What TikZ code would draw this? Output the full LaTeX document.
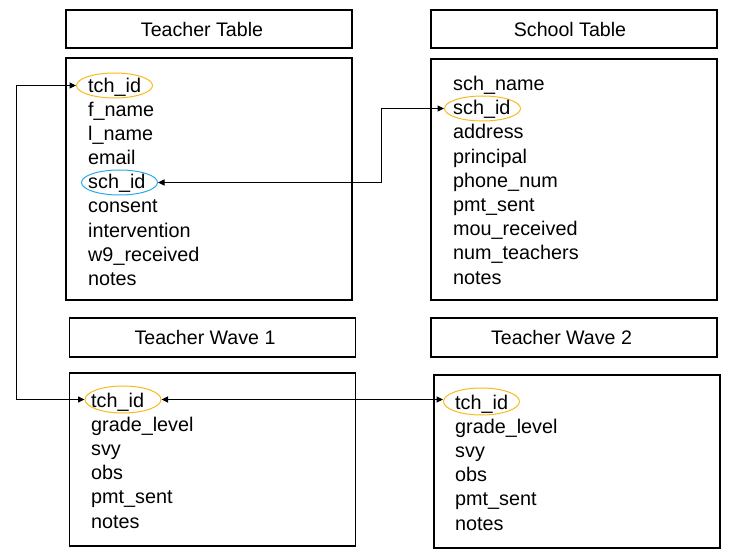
\documentclass[tikz,border=0pt]{standalone}
\usepackage{fontspec}
\setmainfont{Liberation Sans}
\usetikzlibrary{arrows.meta,shapes.geometric}
\definecolor{ovlorange}{HTML}{F7BA1A}
\definecolor{ovlblue}{HTML}{2AAAE6}
\tikzset{
  box/.style={draw=black,line width=1.1pt,inner sep=0pt,font=\fontsize{19.6}{23}\selectfont},
  field/.style={anchor=base west,inner sep=0pt,font=\fontsize{19.8}{23}\selectfont},
  ovl/.style={draw,ellipse,line width=1pt,inner sep=0pt,minimum width=76pt,minimum height=25pt},
  link/.style={draw=black,line width=1pt,{Triangle[length=6.5pt,width=6pt]}-{Triangle[length=6.5pt,width=6pt]}}
}
\begin{document}
\begin{tikzpicture}[x=1pt,y=-1pt]
\useasboundingbox (0,0) rectangle (732,559);
% title boxes
\node[box,minimum width=286pt,minimum height=38pt] (tt) at (209,29) {Teacher Table\hspace*{14pt}};
\node[box,minimum width=286pt,minimum height=38pt] (st) at (574,29) {School Table\hspace*{8pt}};
\node[box,minimum width=286pt,minimum height=39pt] (w1t) at (212.5,337.5) {Teacher Wave 1\hspace*{15pt}};
\node[box,minimum width=286pt,minimum height=39pt] (w2t) at (574,337.5) {Teacher Wave 2\hspace*{25pt}};
% body boxes
\node[box,minimum width=286pt,minimum height=242pt] (tb) at (209,179) {};
\node[box,minimum width=286pt,minimum height=241pt] (sb) at (574,179.5) {};
\node[box,minimum width=286pt,minimum height=173pt] (w1b) at (212.5,459.5) {};
\node[box,minimum width=286pt,minimum height=173pt] (w2b) at (577,461.5) {};
% highlight ellipses
\node[ovl,draw=ovlorange] (ttid) at (114.5,85.5) {};
\node[ovl,draw=ovlblue] (tsid) at (119.5,182.5) {};
\node[ovl,draw=ovlorange] (ssid) at (482.5,108.5) {};
\node[ovl,draw=ovlorange,minimum height=27pt] (w1id) at (123,399.5) {};
\node[ovl,draw=ovlorange,minimum height=27pt] (w2id) at (481.5,401.5) {};
% teacher fields
\foreach \t [count=\i] in {tch\_id,f\_name,l\_name,email,sch\_id,consent,intervention,w9\_received,notes}
  \node[field] (tf\i) at (88,{85.5+24.1*(\i-1)+7}) {\t};
% school fields
\foreach \t [count=\i] in {sch\_name,sch\_id,address,principal,phone\_num,pmt\_sent,mou\_received,num\_teachers,notes}
  \node[field] (sf\i) at (453,{83.5+24.2*(\i-1)+7}) {\t};
% wave 1 fields
\foreach \t [count=\i] in {tch\_id,grade\_level,svy,obs,pmt\_sent,notes}
  \node[field] (af\i) at (91,{400+24.2*(\i-1)+7}) {\t};
% wave 2 fields
\foreach \t [count=\i] in {tch\_id,grade\_level,svy,obs,pmt\_sent,notes}
  \node[field] (bf\i) at (455,{402+24.2*(\i-1)+7}) {\t};
% connectors
\coordinate (lx) at (16,0);
\coordinate (mx) at (381.5,0);
\draw[link] (ttid.west) -- (ttid.west -| lx) |- (w1id.west);
\draw[link] (tsid.east) -- (tsid.east -| mx) |- (ssid.west);
\draw[link] (w1id.east) -- (w1id.east -| w2id.west);
\end{tikzpicture}
\end{document}
